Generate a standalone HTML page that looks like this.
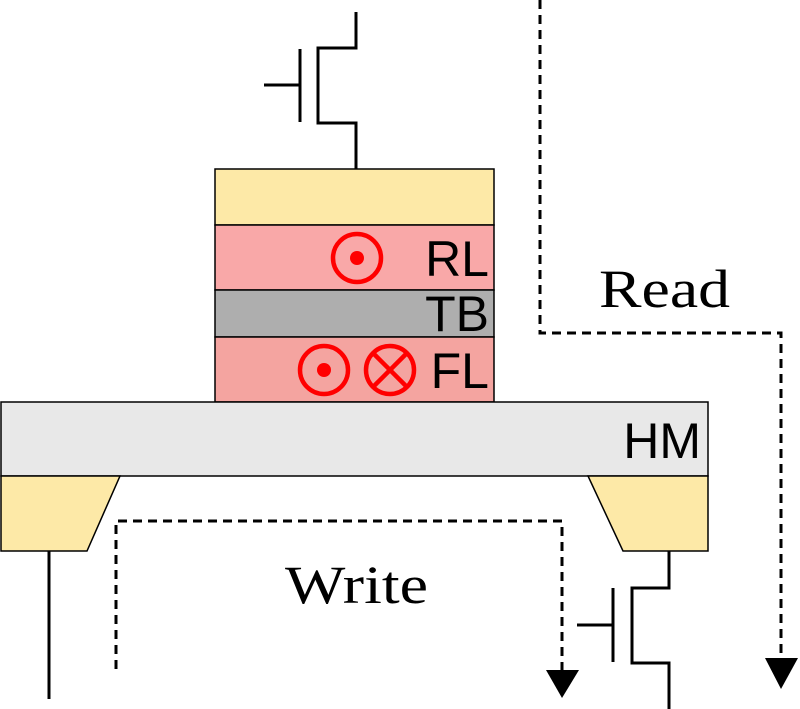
<!DOCTYPE html>
<html><head><style>body{margin:0;background:#fff}svg{display:block}</style></head><body>
<svg width="800" height="709" viewBox="0 0 800 709" xmlns="http://www.w3.org/2000/svg">
<g stroke="#000" stroke-width="3" fill="none">
<polyline points="356,12 356,48 318,48 318,123 356,123 356,169"/>
<line x1="300" y1="49" x2="300" y2="122"/>
<line x1="264" y1="85" x2="300" y2="85"/>
<line x1="49" y1="551" x2="49" y2="699"/>
<polyline points="669,551 669,588 632,588 632,663 669,663 669,709"/>
<line x1="613" y1="588" x2="613" y2="662"/>
<line x1="577" y1="625" x2="613" y2="625"/>
</g>
<g stroke="#000" stroke-width="1.5">
<rect x="215" y="169" width="279" height="56" fill="#fde9a7"/>
<rect x="215" y="225" width="279" height="65" fill="#f9a8a8"/>
<rect x="215" y="290" width="279" height="47" fill="#aeaeae"/>
<rect x="215" y="337" width="279" height="65" fill="#f4a4a0"/>
<rect x="1" y="402" width="707" height="74" fill="#e8e8e8"/>
<polygon points="1,476 120,476 87,551 1,551" fill="#fde9a7"/>
<polygon points="588,476 708,476 708,551 623,551" fill="#fde9a7"/>
</g>
<g stroke="#f00" stroke-width="4.5" fill="none">
<circle cx="357" cy="258" r="24"/>
<circle cx="324" cy="370" r="24"/>
<circle cx="390" cy="370" r="24"/>
<line x1="373" y1="353" x2="407" y2="387"/>
<line x1="407" y1="353" x2="373" y2="387"/>
</g>
<circle cx="357" cy="258" r="7" fill="#f00"/>
<circle cx="324" cy="370" r="7" fill="#f00"/>
<g stroke="#000" stroke-width="3" fill="none" stroke-dasharray="9,6">
<polyline points="116,669 116,521 562,521 562,670"/>
<polyline points="540,0 540,333 781,333 781,658"/>
</g>
<polygon points="546,670 579,670 562,698" fill="#000"/>
<polygon points="765,658 798,658 781,689" fill="#000"/>
<g font-family="'Liberation Sans',sans-serif" font-size="50" text-anchor="end" fill="#000">
<text x="489" y="276">RL</text>
<text x="489" y="331">TB</text>
<text x="489" y="388">FL</text>
<text x="701" y="458">HM</text>
</g>
<g font-family="'Liberation Serif',serif" font-size="54" fill="#000">
<text x="599" y="307" textLength="131" lengthAdjust="spacingAndGlyphs">Read</text>
<text x="285" y="603" textLength="143" lengthAdjust="spacingAndGlyphs">Write</text>
</g>
</svg>
</body></html>
